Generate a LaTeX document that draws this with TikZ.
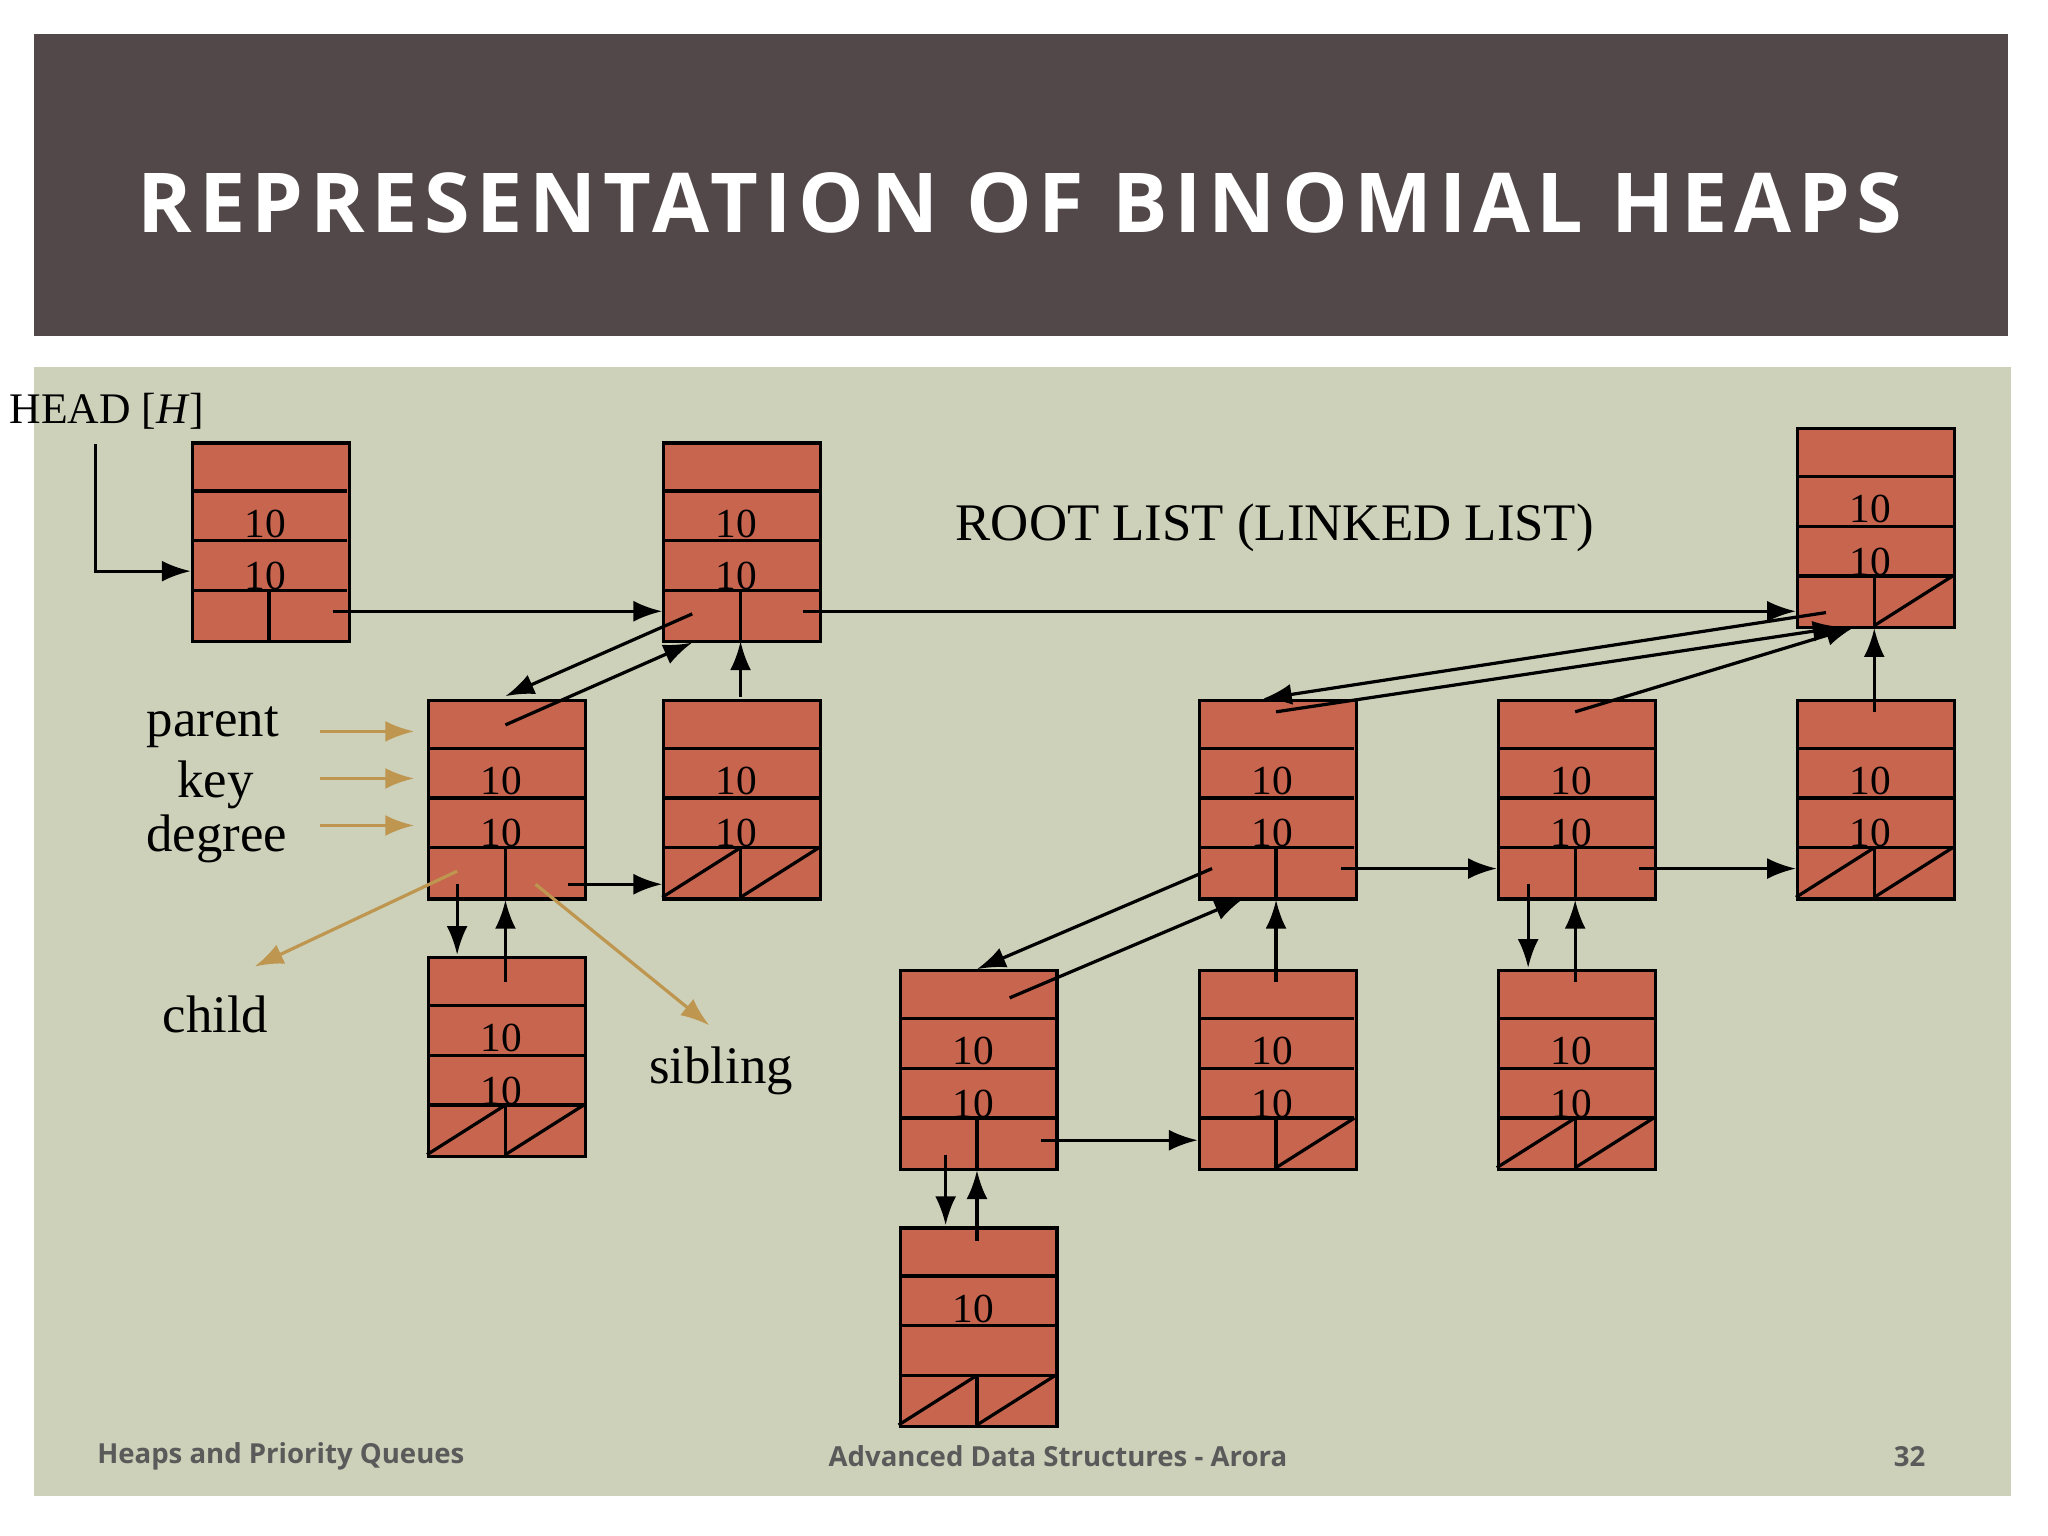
\documentclass[tikz,border=0pt]{standalone}
\usepackage{fontspec}
\setmainfont{Liberation Serif}
\newfontfamily\titlefont[LetterSpace=8]{Open Sans}
\newfontfamily\footfont{Open Sans}
\usetikzlibrary{arrows.meta,calc}
\definecolor{brick}{HTML}{C8654F}
\definecolor{bg}{HTML}{CDD1B9}
\definecolor{bar}{HTML}{524849}
\definecolor{gold}{HTML}{BE9650}
\definecolor{foot}{HTML}{5A5A5A}
\tikzset{
 hb/.style={draw,fill=brick,minimum width=1.2cm,minimum height=1.52cm,inner sep=0pt,line width=0.7pt},
 keyt/.style={font=\fontsize{9}{10}\selectfont,inner sep=0pt},
 lab/.style={font=\fontsize{11.5}{12}\selectfont,inner sep=0pt},
 ptr/.style={line width=0.7pt,-{Latex[length=2.2mm,width=1.6mm]}},
 gptr/.style={gold,line width=0.7pt,-{Latex[length=2.2mm,width=1.6mm]}},
 ft/.style={text=foot,font=\footfont\bfseries\fontsize{6}{7}\selectfont,inner sep=0pt},
}
\newcommand\heapbox[7]{%
 \node[hb,anchor=north west] (#1) at (#2,#3) {};
 \draw[line width=0.7pt] (#2,#3+38) -- (#2+120,#3+38) (#2,#3+76) -- (#2+120,#3+76)
   (#2,#3+114) -- (#2+120,#3+114) (#2+60,#3+114) -- (#2+60,#3+152);
 \ifnum#6=1 \draw[line width=0.7pt] (#2,#3+152) -- (#2+60,#3+114);\fi
 \ifnum#7=1 \draw[line width=0.7pt] (#2+60,#3+152) -- (#2+120,#3+114);\fi
 \node[keyt] at (#2+57,#3+63) {#4};
 \node[keyt] at (#2+57,#3+103) {#5};
}
\begin{document}
\begin{tikzpicture}[x=0.01cm,y=-0.01cm]
\useasboundingbox (0,0) rectangle (1568,1176);
\fill[white] (0,0) rectangle (1568,1176);
\fill[bar] (26,26) rectangle (1537,257);
\node[text=white,font=\titlefont\bfseries\fontsize{18}{20}\selectfont] (title) at (781,155) {REPRESENTATION OF BINOMIAL HEAPS};
\fill[bg] (26,281) rectangle (1540,1145);

\heapbox{A}{146}{338}{10}{10}{0}{0}
\heapbox{B}{507}{338}{10}{10}{0}{0}
\heapbox{C}{1375}{327}{10}{10}{0}{1}
\heapbox{D}{327}{535}{10}{10}{0}{0}
\heapbox{E}{507}{535}{10}{10}{1}{1}
\heapbox{F}{327}{732}{10}{10}{1}{1}
\heapbox{G}{917}{535}{10}{10}{0}{0}
\heapbox{H}{1146}{535}{10}{10}{0}{0}
\heapbox{I}{1375}{535}{10}{10}{1}{1}
\heapbox{J}{688}{742}{10}{10}{0}{0}
\heapbox{K}{917}{742}{10}{10}{0}{1}
\heapbox{L}{1146}{742}{10}{10}{1}{1}
\heapbox{M}{688}{939}{10}{}{1}{1}

\node[font=\fontsize{9.5}{10}\selectfont,inner sep=0pt] (head) at (82,315) {HEAD [\textit{H}]};
\coordinate (h0) at (73,340);
\draw[ptr] (h0) |- ([yshift=-0.22cm]A.west);
\draw[ptr] (255,468) -- (507,468);
\draw[ptr] (615,468) -- (1375,468);
\draw[ptr] (530,470) -- (387,533);
\draw[ptr] (387,555) -- (530,492);
\draw[ptr] (567,534) -- (567,491);
\draw[ptr] (435,677) -- (507,677);
\draw[ptr] (350,677) -- (350,731);
\draw[ptr] (387,752) -- (387,689);
\draw[ptr] (1398,469) -- (967,535);
\draw[ptr] (977,545) -- (1410,480);
\draw[ptr] (1206,545) -- (1420,480);
\draw[ptr] (1435,545) -- (1435,481);
\draw[ptr] (1027,665) -- (1146,665);
\draw[ptr] (1255,665) -- (1375,665);
\draw[ptr] (928,665) -- (748,742);
\draw[ptr] (773,764) -- (952,688);
\draw[ptr] (977,752) -- (977,689);
\draw[ptr] (1170,677) -- (1170,741);
\draw[ptr] (1206,752) -- (1206,689);
\draw[ptr] (797,873) -- (917,873);
\draw[ptr] (724,884) -- (724,938);
\draw[ptr] (748,950) -- (748,896);

\node[lab] (lp) at (163,557) {parent};
\node[lab] (lk) at (165,601) {key};
\node[lab] (ld) at (166,642) {degree};
\node[lab] (lc) at (165,777) {child};
\node[lab] (ls) at (552,820) {sibling};
\node[lab] (root) at (976,404) {ROOT LIST (LINKED LIST)};
\draw[gptr] (245,560) -- (317,560);
\draw[gptr] (245,596) -- (317,596);
\draw[gptr] (245,632) -- (317,632);
\draw[gptr] (350,667) -- (195,740);
\draw[gptr] (410,677) -- (543,785);

\node[ft] (f1) at (215,1115) {Heaps and Priority Queues};
\node[ft] (f2) at (810,1115) {Advanced Data Structures - Arora};
\node[ft] (f3) at (1462,1115) {32};
\end{tikzpicture}
\end{document}
